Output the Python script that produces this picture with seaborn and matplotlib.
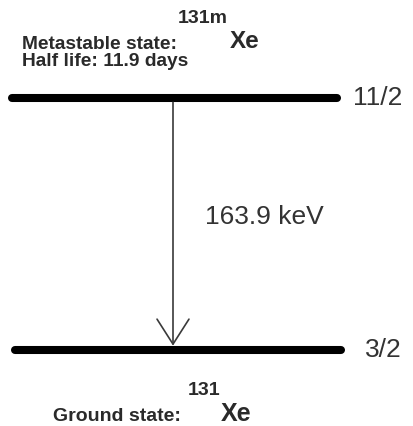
import pandas as pd
import matplotlib.pyplot as plt
import seaborn as sns

# Energy levels of Xe-131 (keV) and their spins
level_names = ["metastable", "ground"]
level_energy = [163.9, 0.0]
level_spin = ["11/2", "3/2"]
level_x_start = [12, 15]
level_x_end = [337, 341]
gamma_energy = 163.9
gamma_x = 173

sns.set_theme(style="white")
plt.rcParams['font.family'] = ['Liberation Sans', 'DejaVu Sans']

# long table for seaborn: two points per level line
rows = []
for name, e, x0, x1 in zip(level_names, level_energy, level_x_start, level_x_end):
    rows.append({'level': name, 'x': x0, 'energy': e})
    rows.append({'level': name, 'x': x1, 'energy': e})
levels = pd.DataFrame(rows)

fig = plt.figure(figsize=(4.14, 4.26), dpi=100)
ax = fig.add_axes([0, 0, 1, 1])

sns.lineplot(data=levels, x='x', y='energy', units='level', estimator=None,
             color='black', lw=5.8, solid_capstyle='round', ax=ax, legend=False)

# gamma transition arrow
ax.annotate('', xy=(gamma_x, level_energy[1] + 1), xytext=(gamma_x, level_energy[0] - 1),
            arrowprops=dict(arrowstyle='->,head_length=18,head_width=11.5',
                            mutation_scale=1, color='#3a3a3a', lw=1.2))
ax.text(gamma_x + 32, (level_energy[0] + level_energy[1]) / 2 + 4.5, f"{gamma_energy} keV",
        fontsize=19, color='#333333', va='center', ha='left')

# spin labels
for e, s in zip(level_energy, level_spin):
    ax.text(402, e, s, fontsize=19, color='#333333', va='center', ha='right')

# state annotations
top = level_energy[0]
ax.text(22, top + 35, "Metastable state:", fontsize=13.8, fontweight='bold',
        color='#2a2a2a', va='center', ha='left')
ax.text(22, top + 24, "Half life: 11.9 days", fontsize=13.8, fontweight='bold',
        color='#2a2a2a', va='center', ha='left')
ax.text(203, top + 51.5, "131m", fontsize=14, fontweight='bold',
        color='#2a2a2a', va='center', ha='center')
ax.text(230, top + 37, "Xe", fontsize=17.5, fontweight='bold',
        color='#2a2a2a', va='center', ha='left')

bot = level_energy[1]
ax.text(53, bot - 43.5, "Ground state:", fontsize=14, fontweight='bold',
        color='#2a2a2a', va='center', ha='left')
ax.text(204, bot - 26.5, "131", fontsize=14, fontweight='bold',
        color='#2a2a2a', va='center', ha='center')
ax.text(221, bot - 41.5, "Xe", fontsize=18, fontweight='bold',
        color='#2a2a2a', va='center', ha='left')

ax.set_xlim(0, 414)
ax.set_ylim(-49.43, 227.64)
ax.axis('off')

fig.savefig('out.png', dpi=100)
